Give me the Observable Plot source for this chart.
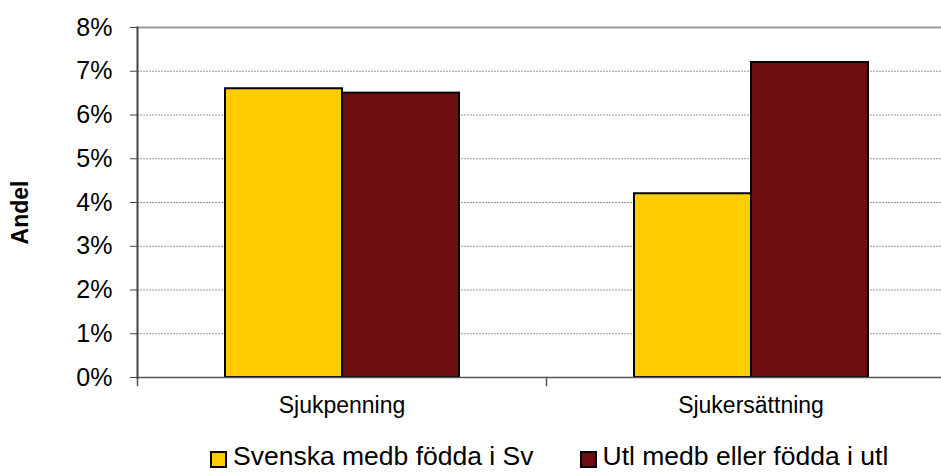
<!DOCTYPE html>
<html>
<head>
<meta charset="utf-8">
<script src="https://cdn.jsdelivr.net/npm/d3@7"></script>
<script src="https://cdn.jsdelivr.net/npm/@observablehq/plot@0.6"></script>
<style>
  html, body { margin: 0; background: #fff; font-family: "Liberation Sans", Arial, sans-serif; overflow: hidden; }
  #chart svg { overflow: hidden; }
  #legend { display: flex; align-items: center; height: 43px; padding-left: 210px; font-size: 26.5px; line-height: 1; color: #000; position: relative; top: 5px; }
  .item { display: flex; align-items: center; }
  .item + .item { margin-left: 46px; }
  .sw { width: 13px; height: 13px; border: 2px solid #000; margin-right: 6px; box-sizing: content-box; position: relative; top: 3px; }
</style>
</head>
<body>
<div id="chart"></div>
<div id="legend"></div>
<script>
const categories = ["Sjukpenning", "Sjukersättning"];
const series = ["Svenska medb födda i Sv", "Utl medb eller födda i utl"];
const svValues = [6.6, 4.2];
const utlValues = [6.5, 7.2];
const yTicks = [0, 1, 2, 3, 4, 5, 6, 7, 8];
const colors = ["#FFCC00", "#6E0E10"];

const data = categories.flatMap((c, i) => [
  { category: c, series: series[0], value: svValues[i] },
  { category: c, series: series[1], value: utlValues[i] }
]);

const chart = Plot.plot({
  width: 941,
  height: 430,
  marginLeft: 137,
  marginRight: -14,
  marginTop: 27,
  marginBottom: 53,
  style: { fontFamily: "'Liberation Sans', Arial, sans-serif", background: "white", color: "#000" },
  fx: { domain: categories, padding: 0, label: null },
  x: { domain: series, paddingInner: 0, paddingOuter: 0.74, axis: null },
  y: { domain: [0, 8], label: null },
  color: { domain: series, range: colors },
  marks: [
    Plot.gridY(yTicks.slice(1, -1), { stroke: "#999", strokeOpacity: 1, strokeDasharray: "2,1", strokeWidth: 1 }),
    Plot.ruleY([8], { stroke: "#999", strokeWidth: 2 }),
    Plot.barY(data, { fx: "category", x: "series", y: "value", fill: "series", stroke: "#000", strokeWidth: 2 }),
    Plot.ruleY([0], { stroke: "#555", strokeWidth: 1.5 }),
    Plot.frame({ anchor: "left", insetTop: 350, insetBottom: -8, stroke: "#555", strokeWidth: 1.5 }),
    Plot.frame({ anchor: "left", facet: "super", stroke: "#444", strokeWidth: 2 }),
    Plot.axisY({ ticks: yTicks, tickFormat: d => d + "%", tickSize: 7, tickPadding: 18, fontSize: 25, stroke: "#444", label: null }),
    Plot.axisFx({ anchor: "bottom", tickSize: 0, tickPadding: 19, fontSize: 23, label: null }),
    Plot.text(["Andel"], { frameAnchor: "left", textAnchor: "middle", dx: -117, dy: 10, rotate: -90, fontSize: 23, fontWeight: "bold", facet: "super" })
  ]
});
document.getElementById("chart").append(chart);

const legend = document.getElementById("legend");
series.forEach((s, i) => {
  const item = document.createElement("div");
  item.className = "item";
  const sw = document.createElement("span");
  sw.className = "sw";
  sw.style.background = colors[i];
  const t = document.createElement("span");
  t.textContent = s;
  item.append(sw, t);
  legend.append(item);
});
</script>
</body>
</html>
